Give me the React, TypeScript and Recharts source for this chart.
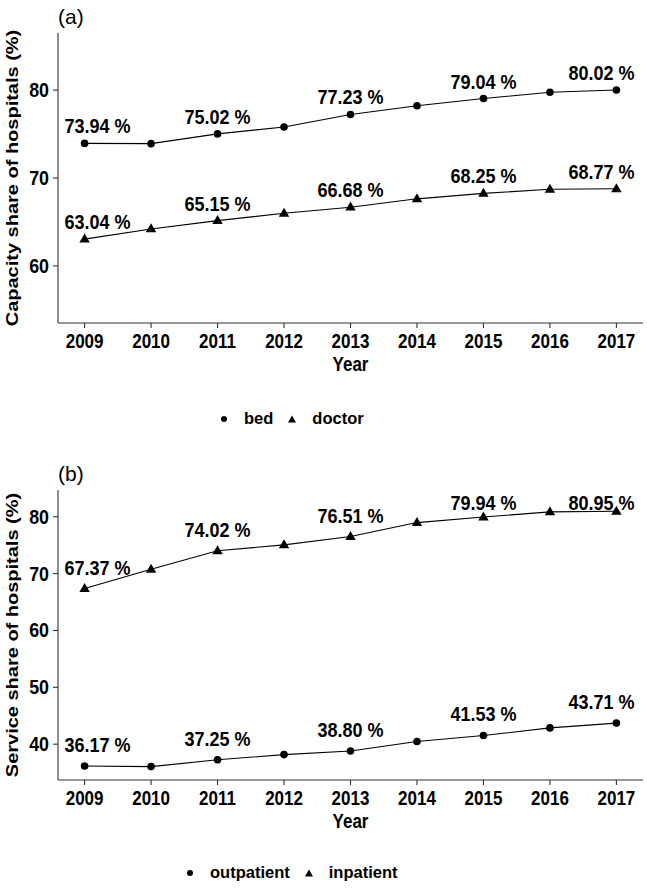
import { LineChart, Line, XAxis, YAxis, Legend, LabelList } from "recharts";

// years on the x axis
const years = [2009, 2010, 2011, 2012, 2013, 2014, 2015, 2016, 2017];

// (a) capacity share
const bed = [73.94, 73.91, 75.02, 75.81, 77.23, 78.23, 79.04, 79.75, 80.02];
const doctor = [63.04, 64.2, 65.15, 65.99, 66.68, 67.63, 68.25, 68.72, 68.77];
const capacityTicks = [60, 70, 80];

// (b) service share
const outpatient = [36.17, 36.06, 37.25, 38.17, 38.8, 40.46, 41.53, 42.86, 43.71];
const inpatient = [67.37, 70.75, 74.02, 75.05, 76.51, 78.97, 79.94, 80.85, 80.95];
const serviceTicks = [40, 50, 60, 70, 80];

const FONT = '"Liberation Sans", Arial, Helvetica, sans-serif';
const AXIS = { stroke: "#333", strokeWidth: 1.1 };

type Shape = "circle" | "triangle";
type Series = { key: string; name: string; values: number[]; shape: Shape };

function marker(shape: Shape, cx: number, cy: number, key?: string) {
  if (shape === "circle") return <circle key={key} cx={cx} cy={cy} r={3.8} fill="#000" />;
  return (
    <polygon
      key={key}
      points={`${cx},${cy - 5.6} ${cx + 5.2},${cy + 3.4} ${cx - 5.2},${cy + 3.4}`}
      fill="#000"
    />
  );
}

const XTick = (p: any) => (
  <text
    transform={`translate(${p.x},${p.y}) scale(0.85,1)`}
    y={17.5}
    textAnchor="middle"
    fontFamily={FONT}
    fontWeight={700}
    fontSize={20}
    fill="#000"
  >
    {p.payload.value}
  </text>
);

const YTick = (p: any) => (
  <text
    transform={`translate(${p.x},${p.y}) scale(0.85,1)`}
    y={7}
    textAnchor="end"
    fontFamily={FONT}
    fontWeight={700}
    fontSize={21}
    fill="#000"
  >
    {p.payload.value}
  </text>
);

type PanelProps = {
  tag: string;
  yTitle: string;
  series: Series[];
  domain: [number, number];
  ticks: number[];
  height: number;
  top: number;
  bottom: number;
  labelShift: number;
  legendTop: number;
  legendLeft: number;
};

function Panel({ tag, yTitle, series, domain, ticks, height, top, bottom, labelShift, legendTop, legendLeft }: PanelProps) {
  const width = 647;
  const left = 18;
  const yAxisW = 40;
  const right = 4;
  const xAxisH = 30;
  const plotBottom = height - bottom - xAxisH;
  const plotLeft = left + yAxisW;
  const plotRight = width - right;

  const rows = years.map((year, i) => {
    const row: Record<string, number> = { year };
    series.forEach((s) => (row[s.key] = s.values[i]));
    return row;
  });

  const renderLabel = (props: any) => {
    const { x, y, value, index } = props;
    if (index % 2 !== 0) return null;
    let dx = 0;
    if (index === 0) dx = 13;
    if (index === years.length - 1) dx = -15;
    const cy = Math.max(y - labelShift, top + 13);
    return (
      <text
        transform={`translate(${x + dx},${cy}) scale(0.9,1)`}
        y={7}
        textAnchor="middle"
        fontFamily={FONT}
        fontWeight={700}
        fontSize={20}
        fill="#000"
      >
        {Number(value).toFixed(2)} %
      </text>
    );
  };

  // keep legend in series order (recharts sorts by name otherwise)
  const legendContent = ({ payload }: any) => {
    const items = series
      .map((s) => ({ s, entry: (payload || []).find((e: any) => e.dataKey === s.key) }))
      .filter((d) => d.entry);
    return (
      <div style={{ display: "flex", alignItems: "center", fontFamily: FONT, fontWeight: 700, fontSize: 16.5, color: "#000" }}>
        {items.map(({ s, entry }) => (
          <div key={s.key} style={{ display: "flex", alignItems: "center", marginRight: 14 }}>
            <svg width={10} height={10}>
              {s.shape === "circle" ? (
                <circle cx={5} cy={5} r={3} fill="#000" />
              ) : (
                <polygon points="5,1.5 9,8.5 1,8.5" fill="#000" />
              )}
            </svg>
            <span style={{ marginLeft: 15 }}>{entry.value}</span>
          </div>
        ))}
      </div>
    );
  };

  return (
    <LineChart width={width} height={height} data={rows} margin={{ top, right, bottom, left }}>
      <XAxis
        dataKey="year"
        type="number"
        domain={[2008.6, 2017.4]}
        ticks={years}
        interval={0}
        allowDataOverflow
        height={xAxisH}
        tickSize={5}
        tickMargin={2}
        axisLine={AXIS}
        tickLine={AXIS}
        tick={XTick}
      />
      <YAxis
        type="number"
        domain={domain}
        ticks={ticks}
        allowDataOverflow
        width={yAxisW}
        tickSize={5}
        tickMargin={4}
        axisLine={AXIS}
        tickLine={AXIS}
        tick={YTick}
      />
      {series.map((s) => (
        <Line
          key={s.key}
          dataKey={s.key}
          name={s.name}
          stroke="#000"
          strokeWidth={1.1}
          isAnimationActive={false}
          activeDot={false}
          dot={(p: any) => marker(s.shape, p.cx, p.cy, `${s.key}-${p.index}`)}
        >
          <LabelList dataKey={s.key} content={renderLabel} />
        </Line>
      ))}
      <Legend
        layout="horizontal"
        verticalAlign="middle"
        align="center"
        content={legendContent}
        wrapperStyle={{ top: legendTop, left: legendLeft, width: 400, height: 18 }}
      />
      <text x={plotLeft} y={top - 9} fontFamily={FONT} fontSize={21} fill="#000">
        {tag}
      </text>
      <text
        transform={`translate(18,${(top + plotBottom) / 2}) rotate(-90) scale(1,0.85)`}
        textAnchor="middle"
        fontFamily={FONT}
        fontWeight={700}
        fontSize={20}
        fill="#000"
      >
        {yTitle}
      </text>
      <text
        transform={`translate(${(plotLeft + plotRight) / 2},${plotBottom + 48}) scale(0.85,1)`}
        textAnchor="middle"
        fontFamily={FONT}
        fontWeight={700}
        fontSize={20}
        fill="#000"
      >
        Year
      </text>
    </LineChart>
  );
}

export default function App() {
  return (
    <div style={{ position: "absolute", left: 0, top: 0, width: 647, height: 888, background: "#fff" }}>
      <div style={{ position: "absolute", left: 0, top: 0 }}>
        <Panel
          tag="(a)"
          yTitle="Capacity share of hospitals (%)"
          series={[
            { key: "bed", name: "bed", values: bed, shape: "circle" },
            { key: "doctor", name: "doctor", values: doctor, shape: "triangle" },
          ]}
          domain={[53.5, 86.5]}
          ticks={capacityTicks}
          height={440}
          top={33}
          bottom={87}
          labelShift={17}
          legendTop={409}
          legendLeft={219}
        />
      </div>
      <div style={{ position: "absolute", left: 0, top: 440 }}>
        <Panel
          tag="(b)"
          yTitle="Service share of hospitals (%)"
          series={[
            { key: "outpatient", name: "outpatient", values: outpatient, shape: "circle" },
            { key: "inpatient", name: "inpatient", values: inpatient, shape: "triangle" },
          ]}
          domain={[33.7, 84.7]}
          ticks={serviceTicks}
          height={448}
          top={50}
          bottom={78}
          labelShift={21}
          legendTop={423}
          legendLeft={185}
        />
      </div>
    </div>
  );
}
